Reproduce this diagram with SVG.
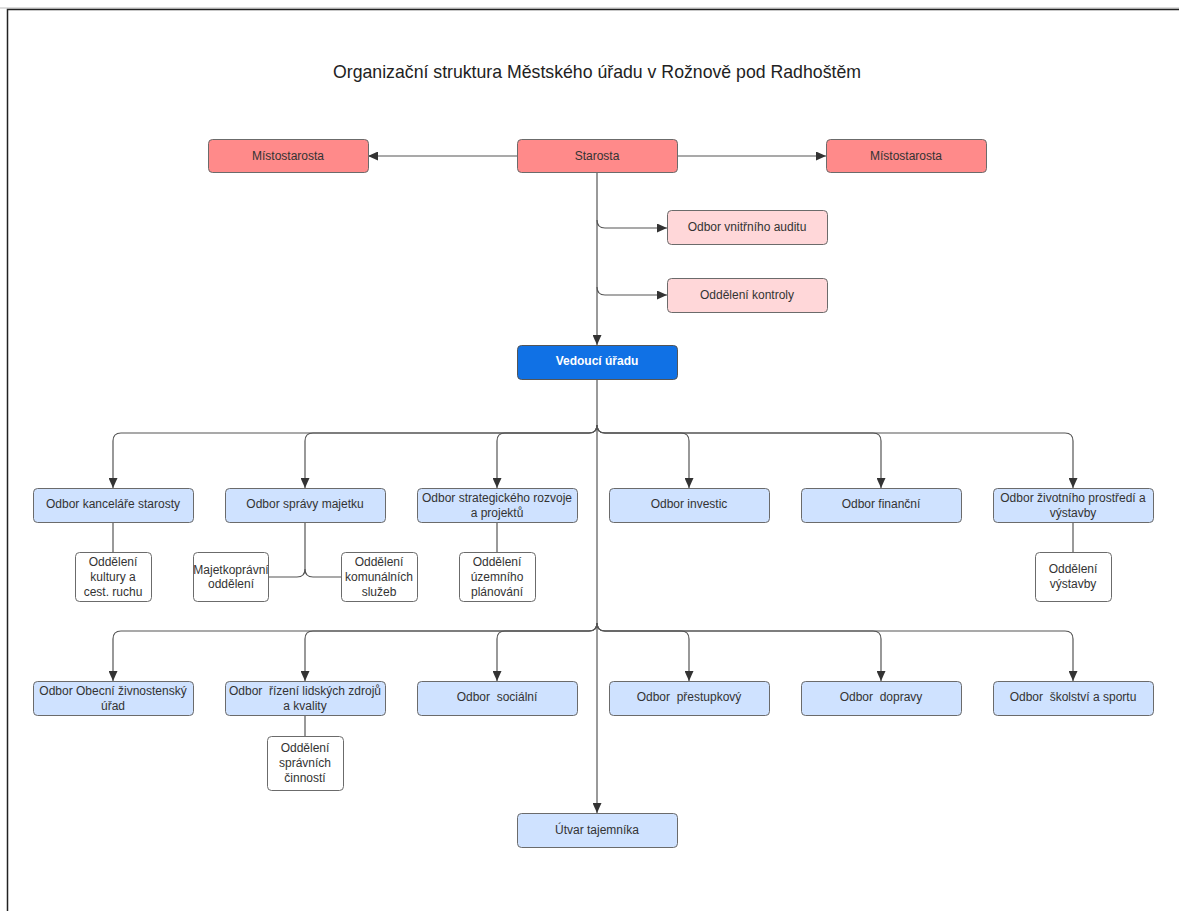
<svg xmlns="http://www.w3.org/2000/svg" width="1179" height="911" viewBox="0 0 1179 911">
<style>
.t{font-family:"Liberation Sans",Arial,sans-serif;font-size:12px;fill:#333;text-anchor:middle;dominant-baseline:central}
.title{font-family:"Liberation Sans",Arial,sans-serif;font-size:17.7px;fill:#222;text-anchor:middle;dominant-baseline:central}
.red{fill:#ff8a8a;stroke:#6b6b6b;stroke-width:1}
.pink{fill:#ffd7d9;stroke:#6b6b6b;stroke-width:1}
.lb{fill:#cfe2ff;stroke:#6b6b6b;stroke-width:1}
.dk{fill:#1071e5;stroke:#555;stroke-width:1}
.wh{fill:#fff;stroke:#6b6b6b;stroke-width:1}
.c{fill:none;stroke:#555;stroke-width:1.2}
.ca{fill:none;stroke:#555;stroke-width:1.2;marker-end:url(#arr)}
</style>
<defs>
<marker id="arr" markerUnits="userSpaceOnUse" markerWidth="11" markerHeight="9" refX="10" refY="4.5" orient="auto">
<path d="M0,0 L10,4.5 L0,9 z" fill="#333"/>
</marker>
</defs>
<rect x="0" y="0" width="1179" height="911" fill="#fff"/>
<line x1="0" y1="8" x2="1179" y2="8" stroke="#bbb" stroke-width="1"/>
<path d="M7.5,911 V9.5 H1179" fill="none" stroke="#222" stroke-width="1.5"/>
<text class="title" x="597" y="72">Organizační struktura Městského úřadu v Rožnově pod Radhoštěm</text>

<g id="connectors">
<path class="ca" d="M517,156 H368"/>
<path class="ca" d="M677,156 H826"/>
<path class="ca" d="M597,172 V345"/>
<path class="ca" d="M597,220 q0,8 8,8 H667"/>
<path class="ca" d="M597,287 q0,8 8,8 H667"/>
<path class="ca" d="M597,379 V813"/>
<path class="ca" d="M597,425 q0,8 -8,8 H121 q-8,0 -8,8 V488"/>
<path class="ca" d="M597,425 q0,8 -8,8 H313 q-8,0 -8,8 V488"/>
<path class="ca" d="M597,425 q0,8 -8,8 H505 q-8,0 -8,8 V488"/>
<path class="ca" d="M597,425 q0,8 8,8 H681 q8,0 8,8 V488"/>
<path class="ca" d="M597,425 q0,8 8,8 H873 q8,0 8,8 V488"/>
<path class="ca" d="M597,425 q0,8 8,8 H1065 q8,0 8,8 V488"/>
<path class="ca" d="M597,623 q0,8 -8,8 H121 q-8,0 -8,8 V681"/>
<path class="ca" d="M597,623 q0,8 -8,8 H313 q-8,0 -8,8 V681"/>
<path class="ca" d="M597,623 q0,8 -8,8 H505 q-8,0 -8,8 V681"/>
<path class="ca" d="M597,623 q0,8 8,8 H681 q8,0 8,8 V681"/>
<path class="ca" d="M597,623 q0,8 8,8 H873 q8,0 8,8 V681"/>
<path class="ca" d="M597,623 q0,8 8,8 H1065 q8,0 8,8 V681"/>
<path class="c" d="M113,522 V552"/>
<path class="c" d="M305,522 V569 q0,8 -8,8 H268"/>
<path class="c" d="M305,569 q0,8 8,8 H341"/>
<path class="c" d="M497,522 V552"/>
<path class="c" d="M1073,522 V552"/>
<path class="c" d="M305,715 V736"/>
</g>

<g id="starosta"><rect class="red" x="517.5" y="139.5" width="160" height="33" rx="4"/><text class="t" x="597" y="156">Starosta</text></g>
<g id="mistostarosta-l"><rect class="red" x="208.5" y="139.5" width="160" height="33" rx="4"/><text class="t" x="288" y="156">Místostarosta</text></g>
<g id="mistostarosta-r"><rect class="red" x="826.5" y="139.5" width="160" height="33" rx="4"/><text class="t" x="906" y="156">Místostarosta</text></g>
<g id="audit"><rect class="pink" x="667.5" y="210.5" width="160" height="34" rx="4"/><text class="t" x="747" y="227">Odbor vnitřního auditu</text></g>
<g id="kontrola"><rect class="pink" x="667.5" y="278.5" width="160" height="34" rx="4"/><text class="t" x="747" y="295">Oddělení kontroly</text></g>
<g id="vedouci"><rect class="dk" x="517.5" y="345.5" width="160" height="34" rx="4"/><text class="t" x="597" y="361" style="fill:#fff;font-weight:bold">Vedoucí úřadu</text></g>

<g id="kancelar"><rect class="lb" x="33.5" y="488.5" width="160" height="34" rx="4"/><text class="t" x="113" y="504">Odbor kanceláře starosty</text></g>
<g id="majetek"><rect class="lb" x="225.5" y="488.5" width="160" height="34" rx="4"/><text class="t" x="305" y="504">Odbor správy majetku</text></g>
<g id="strategie"><rect class="lb" x="417.5" y="488.5" width="160" height="34" rx="4"/><text class="t" x="497" y="498">Odbor strategického rozvoje</text><text class="t" x="497" y="513">a projektů</text></g>
<g id="investice"><rect class="lb" x="609.5" y="488.5" width="160" height="34" rx="4"/><text class="t" x="689" y="504">Odbor investic</text></g>
<g id="financni"><rect class="lb" x="801.5" y="488.5" width="160" height="34" rx="4"/><text class="t" x="881" y="504">Odbor finanční</text></g>
<g id="zivotni"><rect class="lb" x="993.5" y="488.5" width="160" height="34" rx="4"/><text class="t" x="1073" y="498">Odbor životního prostředí a</text><text class="t" x="1073" y="513">výstavby</text></g>

<g id="kultura"><rect class="wh" x="75.5" y="552.5" width="76" height="49" rx="4"/><text class="t" x="113" y="562">Oddělení</text><text class="t" x="113" y="577">kultury a</text><text class="t" x="113" y="592">cest. ruchu</text></g>
<g id="majetkopravni"><rect class="wh" x="193.5" y="552.5" width="75" height="49" rx="4"/><text class="t" x="231" y="570">Majetkoprávní</text><text class="t" x="231" y="584">oddělení</text></g>
<g id="komunalni"><rect class="wh" x="341.5" y="552.5" width="76" height="49" rx="4"/><text class="t" x="379" y="562">Oddělení</text><text class="t" x="379" y="577">komunálních</text><text class="t" x="379" y="592">služeb</text></g>
<g id="uzemni"><rect class="wh" x="459.5" y="552.5" width="76" height="49" rx="4"/><text class="t" x="497" y="562">Oddělení</text><text class="t" x="497" y="577">územního</text><text class="t" x="497" y="592">plánování</text></g>
<g id="vystavba"><rect class="wh" x="1035.5" y="552.5" width="76" height="49" rx="4"/><text class="t" x="1073" y="569">Oddělení</text><text class="t" x="1073" y="584">výstavby</text></g>

<g id="zivnostensky"><rect class="lb" x="33.5" y="681.5" width="160" height="34" rx="4"/><text class="t" x="113" y="691">Odbor Obecní živnostenský</text><text class="t" x="113" y="706">úřad</text></g>
<g id="lidske"><rect class="lb" x="225.5" y="681.5" width="160" height="34" rx="4"/><text class="t" x="305" y="691" style="white-space:pre">Odbor  řízení lidských zdrojů</text><text class="t" x="305" y="706">a kvality</text></g>
<g id="socialni"><rect class="lb" x="417.5" y="681.5" width="160" height="34" rx="4"/><text class="t" x="497" y="697" style="white-space:pre">Odbor  sociální</text></g>
<g id="prestupkovy"><rect class="lb" x="609.5" y="681.5" width="160" height="34" rx="4"/><text class="t" x="689" y="697" style="white-space:pre">Odbor  přestupkový</text></g>
<g id="doprava"><rect class="lb" x="801.5" y="681.5" width="160" height="34" rx="4"/><text class="t" x="881" y="697" style="white-space:pre">Odbor  dopravy</text></g>
<g id="skolstvi"><rect class="lb" x="993.5" y="681.5" width="160" height="34" rx="4"/><text class="t" x="1073" y="697" style="white-space:pre">Odbor  školství a sportu</text></g>

<g id="spravni"><rect class="wh" x="267.5" y="736.5" width="76" height="54" rx="4"/><text class="t" x="305" y="748">Oddělení</text><text class="t" x="305" y="763">správních</text><text class="t" x="305" y="778">činností</text></g>
<g id="tajemnik"><rect class="lb" x="517.5" y="813.5" width="160" height="34" rx="4"/><text class="t" x="597" y="830">Útvar tajemníka</text></g>
</svg>
